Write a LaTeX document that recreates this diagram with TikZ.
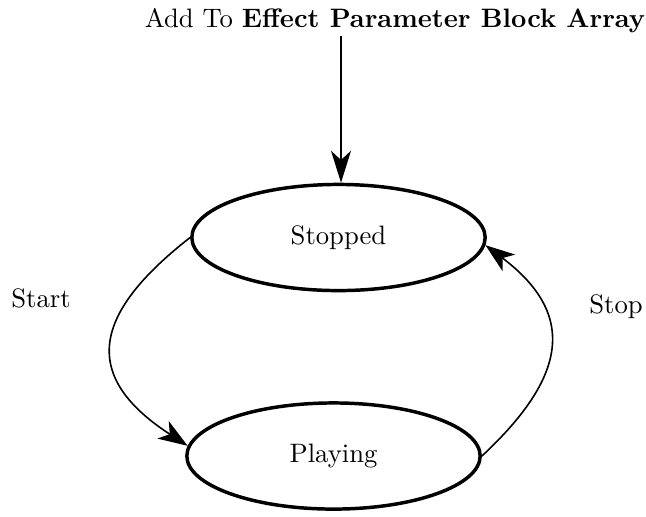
\documentclass[tikz,border=0pt]{standalone}
\usetikzlibrary{shapes.geometric,arrows.meta}
\begin{document}
\begin{tikzpicture}[x=0.375pt,y=-0.375pt,
  state/.style={draw,ellipse,line width=1.3pt,minimum width=110pt,minimum height=39.8pt,inner sep=0pt},
  lbl/.style={anchor=base,inner sep=0pt},
  feed/.style={line width=0.8pt,-{Stealth[length=12pt,width=7.5pt,inset=3.5pt]}},
  trans/.style={line width=0.6pt,-{Stealth[length=11pt,width=7.8pt,inset=3pt]}}]
\useasboundingbox (0,0) rectangle (646,516);
\node[lbl] (src) at (395,27) {Add To \textbf{Effect Parameter Block Array}};
\coordinate (entry) at (341,36);
\node[state] (stopped) at (338.5,237.5) {Stopped};
\node[state] (playing) at (333.5,456) {Playing};
\node[lbl] (startlbl) at (41,307) {Start};
\node[lbl] (stoplbl) at (616,313) {Stop};
\draw[feed] (entry) -- (entry |- stopped.north);
\draw[trans] (stopped.west) to[out=218,in=147,looseness=1.55] (playing.176);
\draw[trans] (playing.east) to[out=43,in=-37,looseness=1.4] (stopped.-3);
\end{tikzpicture}
\end{document}
